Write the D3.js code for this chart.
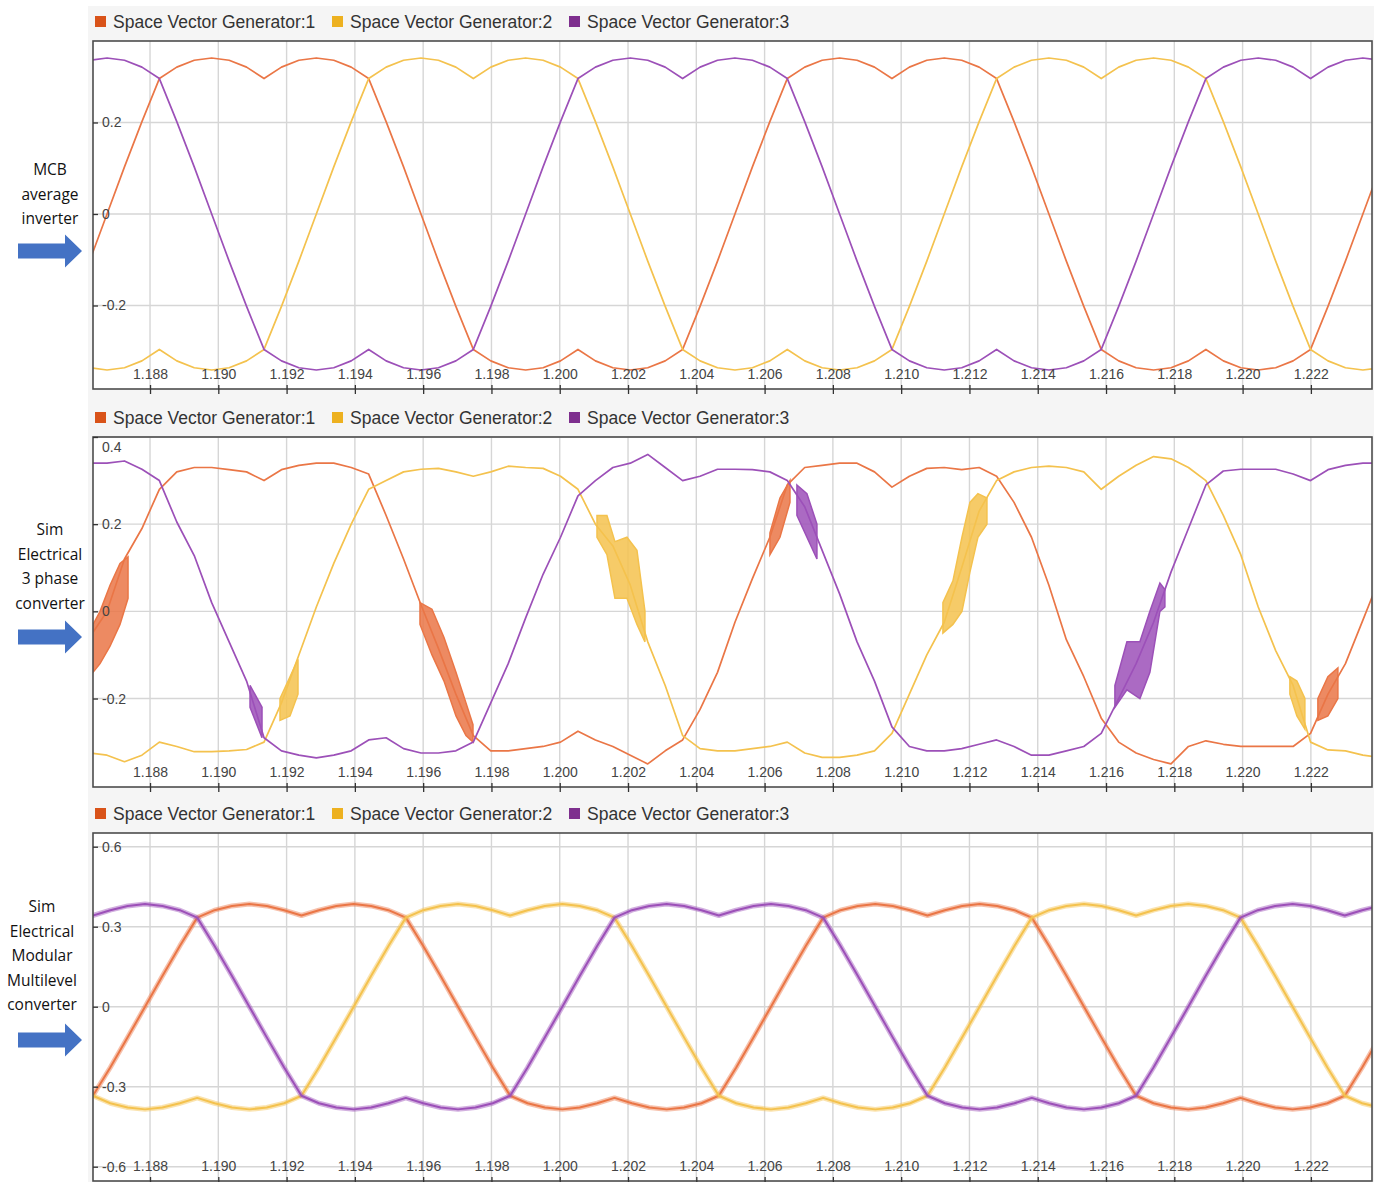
<!DOCTYPE html>
<html><head><meta charset="utf-8">
<script src="https://cdn.jsdelivr.net/npm/d3@7"></script>
<style>body{margin:0;background:#fff}svg{display:block}</style>
</head><body>
<svg id="c" width="1374" height="1182"></svg>
<script>
// ---------------- data ----------------
const seriesNames = ["Space Vector Generator:1", "Space Vector Generator:2", "Space Vector Generator:3"];
const xTickLabels = ["1.188","1.190","1.192","1.194","1.196","1.198","1.200","1.202","1.204","1.206","1.208","1.210","1.212","1.214","1.216","1.218","1.220","1.222"];
const yTicksMCB = [-0.2, 0, 0.2];
const yTicks3ph = [-0.2, 0, 0.2, 0.4];
const yTicksMMC = [-0.6, -0.3, 0, 0.3, 0.6];
const labelMCB = ["MCB", "average", "inverter"];
const label3ph = ["Sim", "Electrical", "3 phase", "converter"];
const labelMMC = ["Sim", "Electrical", "Modular", "Multilevel", "converter"];

// sample times (s) for panels 1 and 2
const time12 = [1.186230,1.186741,1.187252,1.187763,1.188274,1.188784,1.189295,1.189806,1.190317,1.190828,1.191339,1.191850,1.192360,1.192871,1.193382,1.193893,1.194404,1.194915,1.195426,1.195936,1.196447,1.196958,1.197469,1.197980,1.198491,1.199002,1.199512,1.200023,1.200534,1.201045,1.201556,1.202067,1.202578,1.203089,1.203599,1.204110,1.204621,1.205132,1.205643,1.206154,1.206665,1.207175,1.207686,1.208197,1.208708,1.209219,1.209730,1.210241,1.210751,1.211262,1.211773,1.212284,1.212795,1.213306,1.213817,1.214327,1.214838,1.215349,1.215860,1.216371,1.216882,1.217393,1.217903,1.218414,1.218925,1.219436,1.219947,1.220458,1.220969,1.221479,1.221990,1.222501,1.223012,1.223523,1.224034];
// sample times (s) for panel 3
const time3 = [1.185817,1.186326,1.186836,1.187345,1.187854,1.188363,1.188873,1.189382,1.189891,1.190400,1.190910,1.191419,1.191928,1.192437,1.192947,1.193456,1.193965,1.194474,1.194984,1.195493,1.196002,1.196511,1.197021,1.197530,1.198039,1.198548,1.199058,1.199567,1.200076,1.200585,1.201095,1.201604,1.202113,1.202622,1.203132,1.203641,1.204150,1.204659,1.205169,1.205678,1.206187,1.206696,1.207206,1.207715,1.208224,1.208733,1.209243,1.209752,1.210261,1.210770,1.211280,1.211789,1.212298,1.212807,1.213317,1.213826,1.214335,1.214844,1.215354,1.215863,1.216372,1.216881,1.217391,1.217900,1.218409,1.218918,1.219428,1.219937,1.220446,1.220955,1.221465,1.221974,1.222483,1.222992,1.223502,1.224011];

// Panel 1: MCB average inverter
const mcbGen1 = [-0.103,
 0,0.103,0.202,0.296,0.321,0.336,0.341,0.336,0.321,0.296,0.321,0.336,0.341,0.336,0.321,0.296,0.202,0.103,0,-0.103,-0.202,-0.296,-0.321,-0.336,-0.341,-0.336,-0.321,-0.296,-0.321,-0.336,-0.341,-0.336,-0.321,-0.296,-0.202,-0.103,
 0,0.103,0.202,0.296,0.321,0.336,0.341,0.336,0.321,0.296,0.321,0.336,0.341,0.336,0.321,0.296,0.202,0.103,0,-0.103,-0.202,-0.296,-0.321,-0.336,-0.341,-0.336,-0.321,-0.296,-0.321,-0.336,-0.341,-0.336,-0.321,-0.296,-0.202,-0.103,
 0,0.103];
const mcbGen2 = [-0.336,-0.341,-0.336,-0.321,-0.296,-0.321,-0.336,-0.341,-0.336,-0.321,-0.296,-0.202,-0.103,
 0,0.103,0.202,0.296,0.321,0.336,0.341,0.336,0.321,0.296,0.321,0.336,0.341,0.336,0.321,0.296,0.202,0.103,0,-0.103,-0.202,-0.296,-0.321,-0.336,-0.341,-0.336,-0.321,-0.296,-0.321,-0.336,-0.341,-0.336,-0.321,-0.296,-0.202,-0.103,
 0,0.103,0.202,0.296,0.321,0.336,0.341,0.336,0.321,0.296,0.321,0.336,0.341,0.336,0.321,0.296,0.202,0.103,0,-0.103,-0.202,-0.296,-0.321,-0.336,-0.341,-0.336];
const mcbGen3 = [0.336,0.341,0.336,0.321,0.296,0.202,0.103,0,-0.103,-0.202,-0.296,-0.321,-0.336,-0.341,-0.336,-0.321,-0.296,-0.321,-0.336,-0.341,-0.336,-0.321,-0.296,-0.202,-0.103,
 0,0.103,0.202,0.296,0.321,0.336,0.341,0.336,0.321,0.296,0.321,0.336,0.341,0.336,0.321,0.296,0.202,0.103,0,-0.103,-0.202,-0.296,-0.321,-0.336,-0.341,-0.336,-0.321,-0.296,-0.321,-0.336,-0.341,-0.336,-0.321,-0.296,-0.202,-0.103,
 0,0.103,0.202,0.296,0.321,0.336,0.341,0.336,0.321,0.296,0.321,0.336,0.341,0.336];

// Panel 2: Sim Electrical 3 phase converter
const tpGen1 = [-0.06,0.0,0.12,0.19,0.28,0.32,0.33,0.33,0.325,0.32,0.30,0.325,0.335,0.34,0.34,0.33,0.315,0.22,0.12,0.015,-0.085,-0.19,-0.285,-0.32,-0.32,-0.315,-0.31,-0.30,-0.275,-0.295,-0.31,-0.33,-0.35,-0.32,-0.295,-0.225,-0.14,-0.025,0.075,0.17,0.29,0.33,0.335,0.34,0.34,0.32,0.285,0.31,0.328,0.33,0.325,0.33,0.31,0.25,0.17,0.06,-0.065,-0.15,-0.245,-0.30,-0.325,-0.34,-0.35,-0.31,-0.297,-0.305,-0.31,-0.31,-0.31,-0.31,-0.28,-0.19,-0.12,-0.02,0.08];
const tpGen2 = [-0.325,-0.33,-0.345,-0.33,-0.30,-0.31,-0.322,-0.322,-0.32,-0.317,-0.30,-0.21,-0.10,0.01,0.11,0.20,0.28,0.30,0.32,0.326,0.328,0.32,0.31,0.32,0.333,0.33,0.328,0.31,0.28,0.20,0.15,0.06,-0.07,-0.17,-0.285,-0.315,-0.32,-0.32,-0.315,-0.31,-0.30,-0.325,-0.335,-0.335,-0.33,-0.32,-0.28,-0.19,-0.10,-0.025,0.10,0.23,0.30,0.32,0.33,0.333,0.33,0.32,0.28,0.31,0.335,0.355,0.35,0.33,0.30,0.22,0.13,0.01,-0.09,-0.17,-0.30,-0.318,-0.32,-0.33,-0.335];
const tpGen3 = [0.34,0.34,0.345,0.326,0.30,0.205,0.128,0.02,-0.07,-0.16,-0.29,-0.32,-0.33,-0.336,-0.33,-0.32,-0.295,-0.29,-0.315,-0.325,-0.325,-0.32,-0.30,-0.21,-0.12,-0.015,0.085,0.17,0.265,0.30,0.33,0.34,0.36,0.33,0.30,0.31,0.326,0.326,0.325,0.32,0.30,0.24,0.14,0.04,-0.07,-0.16,-0.265,-0.31,-0.32,-0.32,-0.315,-0.305,-0.295,-0.31,-0.33,-0.33,-0.32,-0.31,-0.28,-0.20,-0.12,-0.025,0.09,0.19,0.29,0.322,0.326,0.326,0.326,0.315,0.30,0.325,0.335,0.34,0.34];
// switching-ripple bands in panel 2: [time, low, high]
const tpBand1 = [
 [[1.186331,-0.14,-0.03],[1.186536,-0.12,0.0],[1.186829,-0.08,0.06],[1.187121,-0.03,0.11],[1.187356,0.03,0.125]],
 [[1.195907,-0.03,0.02],[1.196258,-0.10,0.005],[1.196610,-0.16,-0.06],[1.196961,-0.24,-0.14],[1.197254,-0.285,-0.21],[1.197459,-0.30,-0.26]],
 [[1.206157,0.13,0.18],[1.206450,0.17,0.26],[1.206743,0.25,0.30]],
 [[1.222205,-0.25,-0.20],[1.222498,-0.24,-0.15],[1.222791,-0.20,-0.13]]
];
const tpBand2 = [
 [[1.191807,-0.25,-0.20],[1.192100,-0.24,-0.15],[1.192334,-0.19,-0.11]],
 [[1.201091,0.17,0.22],[1.201383,0.13,0.22],[1.201617,0.03,0.16],[1.201969,0.03,0.17],[1.202262,-0.03,0.14],[1.202496,-0.07,0.0]],
 [[1.211223,-0.05,0.02],[1.211516,-0.03,0.07],[1.211780,0.0,0.17],[1.212014,0.09,0.25],[1.212248,0.17,0.27],[1.212512,0.20,0.26]],
 [[1.221385,-0.19,-0.15],[1.221590,-0.24,-0.16],[1.221824,-0.27,-0.20]]
];
const tpBand3 = [
 [[1.190929,-0.22,-0.17],[1.191280,-0.29,-0.22]],
 [[1.206947,0.22,0.29],[1.207240,0.17,0.27],[1.207533,0.12,0.20]],
 [[1.216260,-0.22,-0.17],[1.216612,-0.18,-0.07],[1.216992,-0.20,-0.07],[1.217285,-0.14,0.0],[1.217578,0.0,0.065],[1.217724,0.01,0.05]]
];

// Panel 3: Sim Electrical Modular Multilevel converter
const mmcGen1 = [-0.362,-0.334,-0.228,-0.115,
 0,0.115,0.228,0.334,0.362,0.378,0.385,0.378,0.362,0.342,0.362,0.378,0.385,0.378,0.362,0.334,0.228,0.115,0,-0.115,-0.228,-0.334,-0.362,-0.378,-0.385,-0.378,-0.362,-0.342,-0.362,-0.378,-0.385,-0.378,-0.362,-0.334,-0.228,-0.115,
 0,0.115,0.228,0.334,0.362,0.378,0.385,0.378,0.362,0.342,0.362,0.378,0.385,0.378,0.362,0.334,0.228,0.115,0,-0.115,-0.228,-0.334,-0.362,-0.378,-0.385,-0.378,-0.362,-0.342,-0.362,-0.378,-0.385,-0.378,-0.362,-0.334,-0.228,-0.115];
const mmcGen2 = [-0.228,-0.334,-0.362,-0.378,-0.385,-0.378,-0.362,-0.342,-0.362,-0.378,-0.385,-0.378,-0.362,-0.334,-0.228,-0.115,
 0,0.115,0.228,0.334,0.362,0.378,0.385,0.378,0.362,0.342,0.362,0.378,0.385,0.378,0.362,0.334,0.228,0.115,0,-0.115,-0.228,-0.334,-0.362,-0.378,-0.385,-0.378,-0.362,-0.342,-0.362,-0.378,-0.385,-0.378,-0.362,-0.334,-0.228,-0.115,
 0,0.115,0.228,0.334,0.362,0.378,0.385,0.378,0.362,0.342,0.362,0.378,0.385,0.378,0.362,0.334,0.228,0.115,0,-0.115,-0.228,-0.334,-0.362,-0.378];
const mmcGen3 = [0.362,0.342,0.362,0.378,0.385,0.378,0.362,0.334,0.228,0.115,0,-0.115,-0.228,-0.334,-0.362,-0.378,-0.385,-0.378,-0.362,-0.342,-0.362,-0.378,-0.385,-0.378,-0.362,-0.334,-0.228,-0.115,
 0,0.115,0.228,0.334,0.362,0.378,0.385,0.378,0.362,0.342,0.362,0.378,0.385,0.378,0.362,0.334,0.228,0.115,0,-0.115,-0.228,-0.334,-0.362,-0.378,-0.385,-0.378,-0.362,-0.342,-0.362,-0.378,-0.385,-0.378,-0.362,-0.334,-0.228,-0.115,
 0,0.115,0.228,0.334,0.362,0.378,0.385,0.378,0.362,0.342,0.362,0.378];

// ---------------- styles ----------------
const legendColors = ["#D95319", "#EDB120", "#7E2F8E"];
const lineColors = ["#EA7646", "#F4C24E", "#9C50B8"];
const L = 93, R = 1372;
const FONT = "'Liberation Sans', Arial, sans-serif";

const svg = d3.select("#c");
svg.append("rect").attr("x", 88).attr("y", 6).attr("width", 1286).attr("height", 1176).attr("fill", "#f5f5f5");

const xTickValues = xTickLabels.map(Number);
const x = d3.scaleLinear().domain([1.18633, 1.22379]).range([L, R]);

const panels = [
  {top: 41, bottom: 389, dom: [-0.3825, 0.3781], ticks: yTicksMCB, legendY: 22, time: time12,
   series: [mcbGen1, mcbGen2, mcbGen3], bands: null, fuzz: false,
   label: labelMCB, labelX: 50, labelY: 170, arrowY: 251},
  {top: 437, bottom: 787, dom: [-0.403, 0.4], ticks: yTicks3ph, legendY: 418, time: time12,
   series: [tpGen1, tpGen2, tpGen3], bands: [tpBand1, tpBand2, tpBand3], fuzz: false,
   label: label3ph, labelX: 50, labelY: 530, arrowY: 637},
  {top: 833, bottom: 1181, dom: [-0.6536, 0.6514], ticks: yTicksMMC, legendY: 814, time: time3,
   series: [mmcGen1, mmcGen2, mmcGen3], bands: null, fuzz: true,
   label: labelMMC, labelX: 42, labelY: 907, arrowY: 1040}
];

panels.forEach((p, pi) => {
  const y = d3.scaleLinear().domain(p.dom).range([p.bottom, p.top]);
  const g = svg.append("g");

  g.append("rect").attr("x", L).attr("y", p.top).attr("width", R - L).attr("height", p.bottom - p.top).attr("fill", "#fff");

  // grid
  g.append("g").selectAll("line").data(xTickValues).join("line")
    .attr("x1", d => x(d)).attr("x2", d => x(d)).attr("y1", p.top).attr("y2", p.bottom)
    .attr("stroke", "#d6d6d6").attr("stroke-width", 1.4);
  g.append("g").selectAll("line").data(p.ticks).join("line")
    .attr("x1", L).attr("x2", R).attr("y1", d => y(d)).attr("y2", d => y(d))
    .attr("stroke", "#d6d6d6").attr("stroke-width", 1.4);

  // clip
  const cid = "clip" + pi;
  svg.append("clipPath").attr("id", cid).append("rect")
    .attr("x", L).attr("y", p.top).attr("width", R - L).attr("height", p.bottom - p.top);
  const lg = g.append("g").attr("clip-path", `url(#${cid})`);

  const line = d3.line().x(d => x(d[0])).y(d => y(d[1]));
  const area = d3.area().x(d => x(d[0])).y0(d => y(d[1])).y1(d => y(d[2]));

  p.series.forEach((vals, si) => {
    const pts = vals.map((v, i) => [p.time[i], v]).filter(d => d[0] !== undefined);
    if (p.fuzz) {
      lg.append("path").attr("d", line(pts)).attr("fill", "none")
        .attr("stroke", lineColors[si]).attr("stroke-width", 5).attr("stroke-opacity", 0.45)
        .attr("stroke-linejoin", "round");
      lg.append("path").attr("d", line(pts)).attr("fill", "none")
        .attr("stroke", lineColors[si]).attr("stroke-width", 2).attr("stroke-linejoin", "round");
    } else {
      lg.append("path").attr("d", line(pts)).attr("fill", "none")
        .attr("stroke", lineColors[si]).attr("stroke-width", 1.7).attr("stroke-linejoin", "round");
    }
    if (p.bands) {
      p.bands[si].forEach(b => {
        lg.append("path").attr("d", area(b)).attr("fill", lineColors[si]).attr("fill-opacity", 0.85)
          .attr("stroke", lineColors[si]).attr("stroke-width", 1.5);
      });
    }
  });

  // frame
  g.append("rect").attr("x", L).attr("y", p.top).attr("width", R - L).attr("height", p.bottom - p.top)
    .attr("fill", "none").attr("stroke", "#4d4d4d").attr("stroke-width", 1.6);

  // x axis (ticks across the bottom edge, labels inside)
  const gx = g.append("g").attr("transform", `translate(0,${p.bottom - 4})`)
    .call(d3.axisBottom(x).tickValues(xTickValues).tickSize(9)
      .tickFormat(d => xTickLabels[xTickValues.indexOf(d)]));
  gx.select(".domain").remove();
  gx.attr("font-family", FONT).attr("font-size", 14);
  gx.selectAll(".tick line").attr("stroke", "#333").attr("stroke-width", 1.3);
  gx.selectAll(".tick text").attr("y", -6).attr("dy", "0").attr("fill", "#444");

  // y axis (labels inside plot)
  const gy = g.append("g").attr("transform", `translate(${L},0)`)
    .call(d3.axisRight(y).tickValues(p.ticks).tickSize(5).tickPadding(4).tickFormat(d => String(d)));
  gy.select(".domain").remove();
  gy.attr("font-family", FONT).attr("font-size", 14);
  gy.selectAll(".tick line").attr("stroke", "#333").attr("stroke-width", 1.3);
  gy.selectAll(".tick text").attr("fill", "#444")
    .attr("dy", d => (y(d) - p.top < 8 ? "1.0em" : "0.32em"));

  // legend
  const leg = g.append("g").attr("font-family", FONT).attr("font-size", 17.5).attr("fill", "#333");
  const legX = [95, 332, 569];
  seriesNames.forEach((n, i) => {
    leg.append("rect").attr("x", legX[i]).attr("y", p.legendY - 6).attr("width", 11).attr("height", 11)
      .attr("fill", legendColors[i]);
    leg.append("text").attr("x", legX[i] + 18).attr("y", p.legendY).attr("dy", "0.35em").text(n);
  });

  // left label
  const lt = svg.append("text").attr("font-family", "'Open Sans', 'Noto Sans', sans-serif")
    .attr("font-size", 15.5).attr("fill", "#111").attr("text-anchor", "middle");
  p.label.forEach((s, i) => {
    lt.append("tspan").attr("x", p.labelX).attr("y", p.labelY + i * 24.4).attr("dy", "0.35em").text(s);
  });

  // arrow
  const ay = p.arrowY;
  svg.append("path")
    .attr("d", `M18,${ay - 7.5}L65,${ay - 7.5}L65,${ay - 16.5}L82,${ay}L65,${ay + 16.5}L65,${ay + 7.5}L18,${ay + 7.5}Z`)
    .attr("fill", "#4472C4");
});
</script>
</body></html>
